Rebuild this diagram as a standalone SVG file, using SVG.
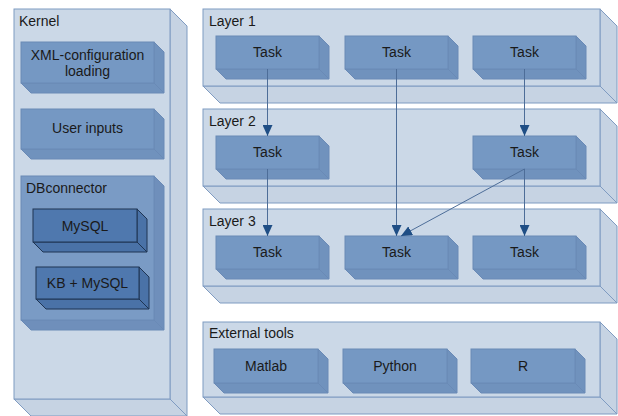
<svg xmlns="http://www.w3.org/2000/svg" width="618" height="416" viewBox="0 0 618 416">
  <style>
    text { font-family: "Liberation Sans", Arial, sans-serif; font-size: 14px; fill: #1a1a1a; }
    .mid { text-anchor: middle; }
    .box .f { fill: #cbd8e7; stroke: #7f9bc1; stroke-width: 1; }
    .box .s { fill: #c6d3e3; stroke: #7f9bc1; stroke-width: 1; }
    .task .f { fill: #7598c3; stroke: #6a8ab6; stroke-width: 1; }
    .task .s { fill: #7092bd; stroke: #6a8ab6; stroke-width: 1; }
    .grp .f { fill: #7a9bc5; stroke: #6a8ab6; stroke-width: 1; }
    .grp .s { fill: #6f8fbb; stroke: #6a8ab6; stroke-width: 1; }
    .db .f { fill: #4f78ae; stroke: #1f3553; stroke-width: 1; }
    .db .s { fill: #4a72a7; stroke: #1f3553; stroke-width: 1; }
    .conn line { stroke: #4d6d98; stroke-width: 1; fill: none; marker-end: url(#arrow); }
  </style>
  <defs>
    <marker id="arrow" markerUnits="userSpaceOnUse" markerWidth="11" markerHeight="10" refX="11" refY="5" orient="auto" viewBox="0 0 11 10">
      <path d="M0,0 L11,5 L0,10 Z" fill="#1f4e85"/>
    </marker>
  </defs>

  <!-- Kernel container -->
  <g id="kernel" class="box">
    <polygon class="s" points="170,9 187,26 187,416 170,399"/>
    <polygon class="s" points="14,399 170,399 187,416 31,416"/>
    <rect class="f" x="14" y="9" width="156" height="390"/>
    <text x="19" y="26">Kernel</text>
  </g>

  <g id="xml-config" class="task">
    <polygon class="s" points="154,42 164,52 164,93 154,83"/>
    <polygon class="s" points="21,83 154,83 164,93 31,93"/>
    <rect class="f" x="21" y="42" width="133" height="41"/>
    <text class="mid" x="87.5" y="60">XML-configuration</text>
    <text class="mid" x="87.5" y="76">loading</text>
  </g>

  <g id="user-inputs" class="task">
    <polygon class="s" points="154,109 164,119 164,159 154,149"/>
    <polygon class="s" points="21,149 154,149 164,159 31,159"/>
    <rect class="f" x="21" y="109" width="133" height="40"/>
    <text class="mid" x="87.5" y="133">User inputs</text>
  </g>

  <g id="dbconnector" class="grp">
    <polygon class="s" points="154,176 164,186 164,330 154,320"/>
    <polygon class="s" points="21,320 154,320 164,330 31,330"/>
    <rect class="f" x="21" y="176" width="133" height="144"/>
    <text x="26" y="193">DBconnector</text>
  </g>

  <g id="mysql" class="db">
    <polygon class="s" points="137,209 147,219 147,252 137,242"/>
    <polygon class="s" points="33,242 137,242 147,252 43,252"/>
    <rect class="f" x="33" y="209" width="104" height="33"/>
    <text class="mid" x="85" y="231">MySQL</text>
  </g>

  <g id="kb-mysql" class="db">
    <polygon class="s" points="139,267 149,277 149,309 139,299"/>
    <polygon class="s" points="36,299 139,299 149,309 46,309"/>
    <rect class="f" x="36" y="267" width="103" height="32"/>
    <text class="mid" x="87.5" y="288">KB + MySQL</text>
  </g>

  <!-- Layer containers -->
  <g id="layer1" class="box">
    <polygon class="s" points="600,9 617,26 617,103 600,86"/>
    <polygon class="s" points="203,86 600,86 617,103 220,103"/>
    <rect class="f" x="203" y="9" width="397" height="77"/>
    <text x="209" y="26">Layer 1</text>
  </g>
  <g id="layer2" class="box">
    <polygon class="s" points="600,109 617,126 617,203 600,186"/>
    <polygon class="s" points="203,186 600,186 617,203 220,203"/>
    <rect class="f" x="203" y="109" width="397" height="77"/>
    <text x="209" y="126">Layer 2</text>
  </g>
  <g id="layer3" class="box">
    <polygon class="s" points="600,209 617,226 617,303 600,286"/>
    <polygon class="s" points="203,286 600,286 617,303 220,303"/>
    <rect class="f" x="203" y="209" width="397" height="77"/>
    <text x="209" y="226">Layer 3</text>
  </g>
  <g id="external-tools" class="box">
    <polygon class="s" points="600,322 617,339 617,414 600,397"/>
    <polygon class="s" points="203,397 600,397 617,414 220,414"/>
    <rect class="f" x="203" y="322" width="397" height="75"/>
    <text x="209" y="338">External tools</text>
  </g>

  <!-- Layer 1 tasks -->
  <g id="l1-task1" class="task">
    <polygon class="s" points="319,36 329,46 329,79 319,69"/>
    <polygon class="s" points="216,69 319,69 329,79 226,79"/>
    <rect class="f" x="216" y="36" width="103" height="33"/>
    <text class="mid" x="267.5" y="57">Task</text>
  </g>
  <g id="l1-task2" class="task">
    <polygon class="s" points="448,36 458,46 458,79 448,69"/>
    <polygon class="s" points="345,69 448,69 458,79 355,79"/>
    <rect class="f" x="345" y="36" width="103" height="33"/>
    <text class="mid" x="396.5" y="57">Task</text>
  </g>
  <g id="l1-task3" class="task">
    <polygon class="s" points="576,36 586,46 586,79 576,69"/>
    <polygon class="s" points="473,69 576,69 586,79 483,79"/>
    <rect class="f" x="473" y="36" width="103" height="33"/>
    <text class="mid" x="524.5" y="57">Task</text>
  </g>

  <!-- Layer 2 tasks -->
  <g id="l2-task1" class="task">
    <polygon class="s" points="319,136 329,146 329,179 319,169"/>
    <polygon class="s" points="216,169 319,169 329,179 226,179"/>
    <rect class="f" x="216" y="136" width="103" height="33"/>
    <text class="mid" x="267.5" y="157">Task</text>
  </g>
  <g id="l2-task3" class="task">
    <polygon class="s" points="576,136 586,146 586,179 576,169"/>
    <polygon class="s" points="473,169 576,169 586,179 483,179"/>
    <rect class="f" x="473" y="136" width="103" height="33"/>
    <text class="mid" x="524.5" y="157">Task</text>
  </g>

  <!-- Layer 3 tasks -->
  <g id="l3-task1" class="task">
    <polygon class="s" points="319,236 329,246 329,279 319,269"/>
    <polygon class="s" points="216,269 319,269 329,279 226,279"/>
    <rect class="f" x="216" y="236" width="103" height="33"/>
    <text class="mid" x="267.5" y="257">Task</text>
  </g>
  <g id="l3-task2" class="task">
    <polygon class="s" points="448,236 458,246 458,279 448,269"/>
    <polygon class="s" points="345,269 448,269 458,279 355,279"/>
    <rect class="f" x="345" y="236" width="103" height="33"/>
    <text class="mid" x="396.5" y="257">Task</text>
  </g>
  <g id="l3-task3" class="task">
    <polygon class="s" points="576,236 586,246 586,279 576,269"/>
    <polygon class="s" points="473,269 576,269 586,279 483,279"/>
    <rect class="f" x="473" y="236" width="103" height="33"/>
    <text class="mid" x="524.5" y="257">Task</text>
  </g>

  <!-- External tools -->
  <g id="matlab" class="task">
    <polygon class="s" points="318,349 328,359 328,393 318,383"/>
    <polygon class="s" points="214,383 318,383 328,393 224,393"/>
    <rect class="f" x="214" y="349" width="104" height="34"/>
    <text class="mid" x="266" y="371">Matlab</text>
  </g>
  <g id="python" class="task">
    <polygon class="s" points="447,349 457,359 457,393 447,383"/>
    <polygon class="s" points="343,383 447,383 457,393 353,393"/>
    <rect class="f" x="343" y="349" width="104" height="34"/>
    <text class="mid" x="395" y="371">Python</text>
  </g>
  <g id="r" class="task">
    <polygon class="s" points="575,349 585,359 585,393 575,383"/>
    <polygon class="s" points="471,383 575,383 585,393 481,393"/>
    <rect class="f" x="471" y="349" width="104" height="34"/>
    <text class="mid" x="523" y="371">R</text>
  </g>

  <!-- Connectors -->
  <g id="connectors" class="conn">
    <line x1="267.5" y1="69" x2="267.5" y2="136"/>
    <line x1="396.5" y1="69" x2="396.5" y2="236"/>
    <line x1="524.5" y1="69" x2="524.5" y2="136"/>
    <line x1="267.5" y1="169" x2="267.5" y2="236"/>
    <line x1="524.5" y1="169" x2="524.5" y2="236"/>
    <line x1="524.5" y1="169" x2="401" y2="236"/>
  </g>
</svg>
